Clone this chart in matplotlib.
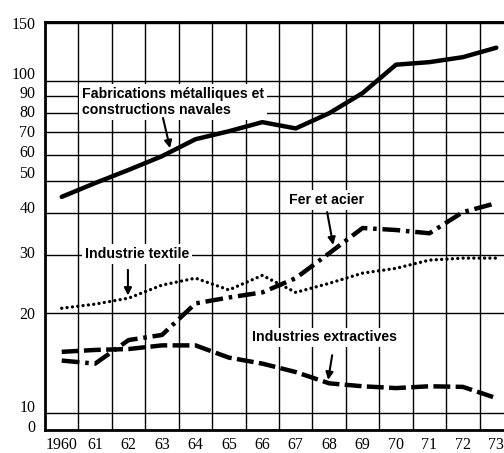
import numpy as np
import matplotlib.pyplot as plt
from matplotlib.ticker import FixedLocator, NullLocator

# Indices de production par branche, 1960-1973 (échelle logarithmique)
years = list(range(1960, 1974))
year_labels = ["1960"] + [str(y)[2:] for y in years[1:]]

fabrications = [44.8, 49.3, 54.0, 59.4, 66.8, 70.6, 75.2, 72.0, 80.0, 92.0, 112.0, 114.0, 118.0, 126.0]
fer_acier = [14.4, 14.1, 16.6, 17.2, 21.4, 22.3, 23.1, 25.5, 30.3, 36.1, 35.6, 34.8, 40.3, 42.9]
textile = [20.7, 21.3, 22.2, 24.3, 25.5, 23.5, 26.0, 23.1, 24.6, 26.4, 27.3, 28.9, 29.3, 29.3]
extractives = [15.3, 15.5, 15.6, 16.0, 16.0, 14.7, 14.1, 13.3, 12.3, 12.05, 11.9, 12.05, 12.0, 11.1]

grid_values = [10, 20, 30, 40, 50, 60, 70, 80, 90, 100, 150]
y_labels = ["150", "100", "90", "80", "70", "60", "50", "40", "30", "20", "10", "0"]
# les chiffres de l'axe sont un peu décalés par rapport aux traits du quadrillage
y_label_pos = [150, 105.7, 92.7, 81.2, 70.6, 61.5, 53.2, 41.7, 30.5, 20.0, 10.5, 9.14]

label_font = ["Liberation Sans Narrow", "Liberation Sans", "DejaVu Sans"]
tick_font = ["Liberation Serif", "DejaVu Serif"]

fig = plt.figure(figsize=(5.04, 4.53), dpi=100)
ax = fig.add_axes([0.0893, 0.0508, 0.9286, 0.9007])
ax.set_yscale("log")
ax.set_xlim(1959.5, 1973.5)
ax.set_ylim(8.9, 150.6)

# quadrillage
for v in grid_values:
    ax.axhline(v, color="black", lw=1.0, zorder=1)
for xb in np.arange(1960.5, 1973.5, 1.0):
    ax.axvline(xb, color="black", lw=1.0, zorder=1)

# courbes
ax.plot(years, fabrications, color="black", lw=3.2, solid_capstyle="round", zorder=4)
ax.plot(years, fer_acier, color="black", lw=3.2, dashes=(4.0, 1.3, 0.8, 1.3), zorder=4)
ax.plot(years, textile, color="black", lw=2.4, dashes=(0.01, 1.6),
        dash_capstyle="round", zorder=4)
ax.plot(years, extractives, color="black", lw=3.2, dashes=(3.8, 1.2), zorder=4)

# axes
ax.yaxis.set_major_locator(FixedLocator(y_label_pos))
ax.yaxis.set_minor_locator(NullLocator())
ax.set_yticklabels(y_labels)
ax.set_xticks(years)
ax.set_xticklabels(year_labels)
ax.tick_params(axis="both", length=0, labelsize=11.5)
ax.tick_params(axis="y", pad=7)
ax.tick_params(axis="x", pad=5)
for lab in ax.get_xticklabels() + ax.get_yticklabels():
    lab.set_family(tick_font)

for side in ["left", "bottom"]:
    ax.spines[side].set_linewidth(2.0)
ax.spines["top"].set_linewidth(1.4)

# étiquettes des courbes
box = dict(facecolor="white", edgecolor="none", pad=2.0)
txt_kw = dict(fontsize=10.2, fontweight="bold", family=label_font, zorder=3, bbox=box)

ax.text(1960.61, 86.5, "Fabrications métalliques et\nconstructions navales",
        ha="left", va="center", linespacing=1.25, **txt_kw)
ax.text(1962.25, 30.1, "Industrie textile", ha="center", va="center", **txt_kw)
ax.text(1967.91, 43.8, "Fer et acier", ha="center", va="center", **txt_kw)
ax.text(1967.85, 16.9, "Industries extractives", ha="center", va="center", **txt_kw)

arrow = dict(arrowstyle="-|>", color="black", lw=1.5, mutation_scale=11, shrinkA=0, shrinkB=0)
ax.annotate("", xy=(1963.24, 62.8), xytext=(1963.03, 77.4), arrowprops=arrow, zorder=5)
ax.annotate("", xy=(1961.98, 22.6), xytext=(1961.98, 27.0), arrowprops=arrow, zorder=5)
ax.annotate("", xy=(1968.12, 32.1), xytext=(1967.94, 40.3), arrowprops=arrow, zorder=5)
ax.annotate("", xy=(1967.97, 12.6), xytext=(1968.09, 14.95), arrowprops=arrow, zorder=5)

fig.savefig("out.png", dpi=100)
